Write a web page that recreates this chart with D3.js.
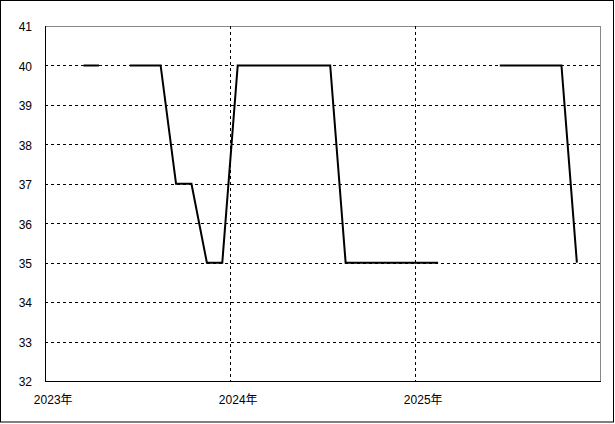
<!DOCTYPE html>
<html><head><meta charset="utf-8">
<script src="https://cdn.jsdelivr.net/npm/d3@7"></script>
<style>
html,body{margin:0;padding:0;background:#fff;}
svg{display:block;}
text{font-family:"Liberation Sans","DejaVu Sans","Noto Sans CJK JP",sans-serif;font-size:12px;fill:#000;}
</style></head><body>
<svg id="c" width="615" height="424"></svg>
<script>
// Monthly data, Jan 2023 .. Dec 2025 (null = no value)
const months = d3.range(36);
const values = [
  null, null, 40, 40, null, 40, 40, 40, 37, 37, 35, 35,
  40, 40, 40, 40, 40, 40, 40, 35, 35, 35, 35, 35,
  35, 35, null, null, null, 40, 40, 40, 40, 40, 35, null
];
const yearLabels = ["2023年", "2024年", "2025年"];
const yearStarts = [0, 12, 24];
const yTicks = [32, 33, 34, 35, 36, 37, 38, 39, 40, 41];

const svg = d3.select("#c");
const L = 45, R = 600, T = 26, B = 381;
const x = d3.scaleLinear().domain([0, 36]).range([L, R]);
const y = d3.scaleLinear().domain([32, 41]).range([B, T]);

// outer border
svg.append("rect").attr("x", 0.5).attr("y", 0.5).attr("width", 613).attr("height", 421.5)
  .attr("fill", "#fff").attr("stroke", "#000").attr("stroke-width", 1);

// plot frame (top/right gray)
svg.append("path").attr("d", `M${L},${T+0.5}H${R+0.5}V${B}`)
  .attr("fill", "none").attr("stroke", "#888").attr("stroke-width", 1)
  .attr("shape-rendering", "crispEdges");

// horizontal gridlines
svg.append("g").selectAll("line").data(yTicks.filter(v => v > 32 && v < 41)).join("line")
  .attr("x1", L).attr("x2", R)
  .attr("y1", d => Math.round(y(d)) + 0.5).attr("y2", d => Math.round(y(d)) + 0.5)
  .attr("stroke", "#000").attr("stroke-dasharray", "3,3").attr("shape-rendering", "crispEdges");

// vertical gridlines at year starts
svg.append("g").selectAll("line").data(yearStarts.filter(v => v > 0)).join("line")
  .attr("x1", d => Math.round(x(d)) + 0.5).attr("x2", d => Math.round(x(d)) + 0.5)
  .attr("y1", T).attr("y2", B)
  .attr("stroke", "#000").attr("stroke-dasharray", "3,3").attr("shape-rendering", "crispEdges");

// y axis
const ya = svg.append("g").attr("transform", `translate(${L},0)`)
  .call(d3.axisLeft(y).tickValues(yTicks).tickSize(0).tickPadding(13).tickFormat(d3.format("d")));
ya.select(".domain").remove();
ya.selectAll("text").attr("font-size", 12).attr("font-family", null).attr("dy", "0.4em");

// x axis labels (centred on first month of year)
const xa = svg.append("g").attr("transform", `translate(0,${B})`)
  .call(d3.axisBottom(x).tickValues(yearStarts.map(d => d + 0.5)).tickSize(0).tickPadding(14)
    .tickFormat((d, i) => yearLabels[i]));
xa.select(".domain").remove();
xa.selectAll("text").attr("font-size", 12).attr("font-family", null);

// axis lines (left & bottom black)
svg.append("path").attr("d", `M${L+0.5},${T}V${B+0.5}H${R+1}`)
  .attr("fill", "none").attr("stroke", "#000").attr("stroke-width", 1)
  .attr("shape-rendering", "crispEdges");

// data line
const line = d3.line()
  .defined(d => d.v != null)
  .x(d => x(d.m + 0.5))
  .y(d => y(d.v));
svg.append("path")
  .datum(months.map(m => ({ m, v: values[m] })))
  .attr("d", line)
  .attr("fill", "none").attr("stroke", "#000").attr("stroke-width", 2);
</script>
</body></html>
